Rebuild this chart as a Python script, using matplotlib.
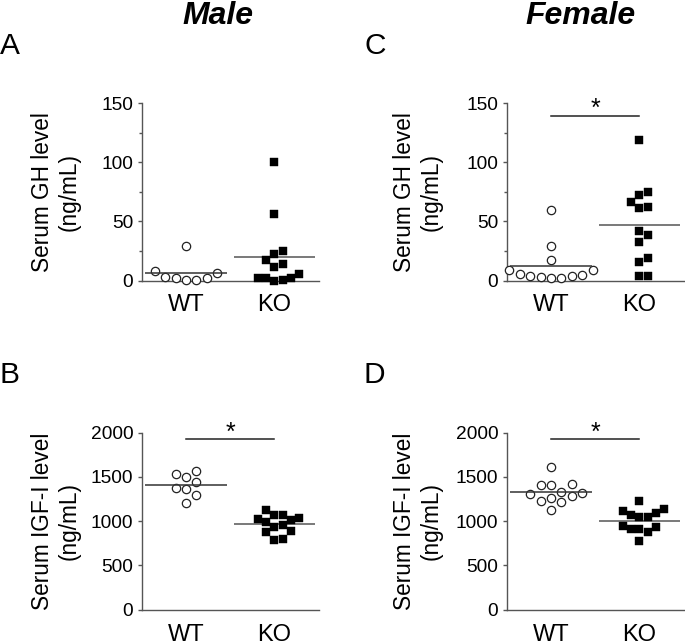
import numpy as np
import matplotlib
matplotlib.use('Agg')
import matplotlib.pyplot as plt

plt.rcParams['font.family'] = ['Liberation Sans', 'DejaVu Sans']

# ---------------- data ----------------
groups = ['WT', 'KO']
male_gh_wt = [6.5, 2.3, 0.8, 0.6, 2.3, 2.8, 7.9, 29]
male_gh_ko = [100, 56, 24.6, 22.3, 17, 11.3, 13.6, 5.1, 2.3, 0.8, 0, 1.7, 2.3]
female_gh_wt = [60, 28.8, 17.2, 9.3, 9.3, 4.5, 3.4, 2.5, 1.7, 2.8, 4.2, 5.9]
female_gh_ko = [119, 74.9, 72.6, 66.4, 61.9, 61.3, 41.8, 38.1, 32.8, 19.2, 15.5, 4.2, 4.0]
male_igf_wt = [1568, 1535, 1501, 1437, 1377, 1362, 1298, 1204]
male_igf_ko = [1126, 1073, 1069, 1024, 994, 1013, 1036, 953, 931, 889, 874, 803, 788]
female_igf_wt = [1607, 1412, 1412, 1416, 1322, 1333, 1288, 1303, 1262, 1213, 1228, 1127]
female_igf_ko = [1225, 1142, 1097, 1049, 1045, 1064, 1109, 948, 933, 910, 914, 876, 775]

gh_ticks = [0, 50, 100, 150]
gh_minor = [25, 75, 125]
igf_ticks = [0, 500, 1000, 1500, 2000]

gh_label = 'Serum GH level\n(ng/mL)'
igf_label = 'Serum IGF-I level\n(ng/mL)'
col_titles = ['Male', 'Female']
panel_letters = ['A', 'B', 'C', 'D']

# significance bar heights (None = not significant)
sig_male_gh = None
sig_female_gh = 139
sig_male_igf = 1921
sig_female_igf = 1921

# ---------------- figure ----------------
W, H = 685, 641
fig = plt.figure(figsize=(W / 100, H / 100), dpi=100)


def add_ax(left_px, top_px, w_px=177.0, h_px=177.2):
    return fig.add_axes([left_px / W, 1 - (top_px + h_px) / H, w_px / W, h_px / H])


def swarm_x(ax, values, center, step_px, min_px):
    vals = np.asarray(values, float)
    ypx = ax.transData.transform(np.column_stack([np.full(len(vals), center), vals]))[:, 1]
    cand = [0]
    for i in range(1, 12):
        cand += [i, -i]
    ks = np.zeros(len(vals))
    placed = []
    for idx in np.argsort(ypx):
        for k in cand:
            if all(abs(y - ypx[idx]) >= min_px for kk, y in placed if kk == k):
                ks[idx] = k
                placed.append((k, ypx[idx]))
                break
    x0 = ax.transData.transform((center, 0))[0]
    pts = np.column_stack([x0 + ks * step_px, np.zeros(len(ks))])
    return ax.transData.inverted().transform(pts)[:, 0]


panels = [
    dict(pos=(141.7, 103.3), wt=male_gh_wt, ko=male_gh_ko, ticks=gh_ticks, minor=gh_minor,
         label=gh_label, sig=sig_male_gh, lab_x=-0.343),
    dict(pos=(141.7, 432.5), wt=male_igf_wt, ko=male_igf_ko, ticks=igf_ticks, minor=None,
         label=igf_label, sig=sig_male_igf, lab_x=-0.343),
    dict(pos=(506.7, 103.3), wt=female_gh_wt, ko=female_gh_ko, ticks=gh_ticks, minor=gh_minor,
         label=gh_label, sig=sig_female_gh, lab_x=-0.36),
    dict(pos=(506.7, 432.5), wt=female_igf_wt, ko=female_igf_ko, ticks=igf_ticks, minor=None,
         label=igf_label, sig=sig_female_igf, lab_x=-0.36),
]

axis_col = '#555555'
for p in panels:
    ax = add_ax(*p['pos'])
    ax.set_xlim(0.5, 2.5)
    ax.set_ylim(p['ticks'][0], p['ticks'][-1])
    for s in ['top', 'right']:
        ax.spines[s].set_visible(False)
    for s in ['left', 'bottom']:
        ax.spines[s].set_color(axis_col)
        ax.spines[s].set_linewidth(1.0)
    ax.set_yticks(p['ticks'])
    ax.set_yticklabels([str(t) for t in p['ticks']], fontsize=13.8)
    if p['minor']:
        ax.set_yticks(p['minor'], minor=True)
    ax.tick_params(axis='y', which='major', length=2.8, width=1.0, color=axis_col, pad=3.2)
    ax.tick_params(axis='y', which='minor', length=2.0, width=1.0, color=axis_col)
    ax.set_xticks([1, 2])
    ax.set_xticklabels(groups, fontsize=17)
    ax.tick_params(axis='x', length=0, pad=10)
    ax.set_ylabel(p['label'], fontsize=16.3)
    ax.yaxis.set_label_coords(p['lab_x'], 0.5)

    xw = swarm_x(ax, p['wt'], 1, 10.4, 10.5)
    xk = swarm_x(ax, p['ko'], 2, 8.3, 10.0)
    ax.scatter(xw, p['wt'], s=36, marker='o', facecolors='white', edgecolors='#222222',
               linewidths=0.9, clip_on=False, zorder=3)
    ax.scatter(xk, p['ko'], s=28, marker='s', facecolors='black', edgecolors='black',
               linewidths=0.3, clip_on=False, zorder=3)
    ax.hlines(np.mean(p['wt']), 1 - 0.46, 1 + 0.46, color='#333333', lw=1.1, zorder=4)
    ax.hlines(np.mean(p['ko']), 2 - 0.46, 2 + 0.46, color='#555555', lw=1.1, zorder=2)
    if p['sig'] is not None:
        ax.plot([1, 2], [p['sig'], p['sig']], color='#222222', lw=1.1, clip_on=False)
        ax.text(1.5, p['sig'], '*', ha='center', va='baseline', fontsize=18)

# column titles
fig.text(218 / W, 1 - 1.0 / H, col_titles[0], ha='center', va='top', fontsize=23,
         fontweight='bold', fontstyle='italic')
fig.text(581 / W, 1 - 1.0 / H, col_titles[1], ha='center', va='top', fontsize=23,
         fontweight='bold', fontstyle='italic')

# panel letters
letter_pos = [(0, 32), (0, 361), (364, 32), (364, 361)]
for lt, (lx, ly) in zip(panel_letters, letter_pos):
    fig.text(lx / W, 1 - ly / H, lt, ha='left', va='top', fontsize=21.5)

fig.savefig('out.png', dpi=100)
